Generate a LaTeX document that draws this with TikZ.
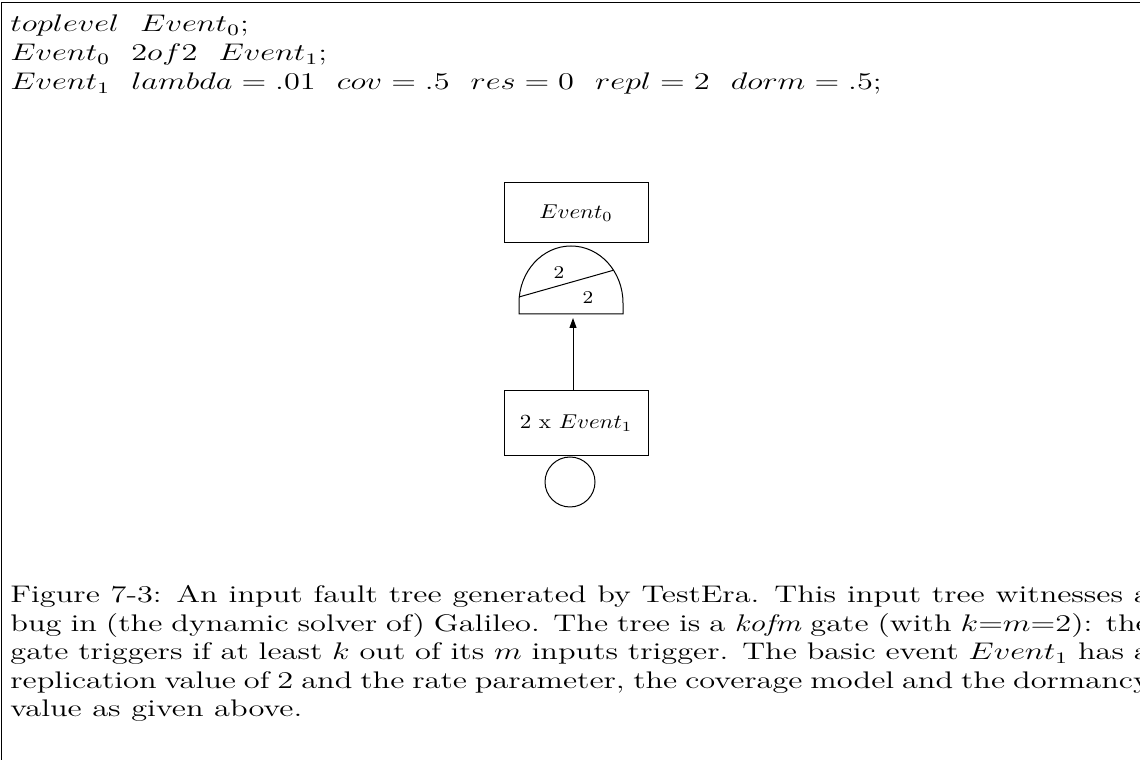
\documentclass[tikz,border=0pt]{standalone}
\usepackage{amsmath}
\usepackage{graphicx}
\usetikzlibrary{arrows.meta,positioning}
\newcommand{\wide}[2][1.35]{\scalebox{#1}[1]{#2}}

\begin{document}
\begin{tikzpicture}[
  box/.style={draw,line width=.5pt,minimum width=72pt,minimum height=30pt,inner sep=0pt,font=\fontsize{10}{12}\selectfont},
  basic/.style={draw,line width=.5pt,circle,minimum size=25pt,inner sep=0pt},
  arr/.style={-{Triangle[length=5pt,width=3.5pt]},line width=.5pt},
  codeline/.style={anchor=base west,inner sep=0pt},
  digit/.style={inner sep=0pt,font=\fontsize{9}{11}\selectfont},
  x=1pt,y=1pt,font=\fontsize{12}{14.5}\selectfont]
\useasboundingbox (0,0) rectangle (570,380);
\draw[line width=.6pt] (0.75,0)--(0.75,378.75)--(570,378.75);
% input description
\node[codeline] (top) at (5,364) {\wide{$toplevel\ \ Event_0;$}};
\node[codeline] (gate) at (5,349.5) {\wide{$Event_0\ \ 2of2\ \ Event_1;$}};
\node[codeline] (basic) at (5,335) {\wide{$Event_1\ \ lambda = .01\ \ cov = .5\ \ res = 0\ \ repl = 2\ \ dorm = .5;$}};
% fault tree
\node[box] (ev0) at (288,273.5) {\wide[1.15]{$Event_0$}};
\draw[line width=.5pt] (259.5,223)--(259.5,228.5) arc[start angle=180,end angle=0,x radius=26,y radius=28.5]--(311.5,223)--cycle;
\coordinate (gbot) at (286.5,223);
\draw[line width=.5pt] (259.5,231.5)--(306.8,244.9);
\node[digit] (k) at (279.5,243.5) {\wide[1.15]{2}};
\node[digit] (m) at (294,231) {\wide[1.15]{2}};
\node[box,minimum height=32.5pt] (ev1) at (288,168.25) {\wide[1.15]{2 x $Event_1$}};
\node[basic,below=0pt of ev1,xshift=-3pt] (be) {};
\draw[arr,shorten >=2pt] (ev1.north-|gbot)--(gbot);
% caption
\node[codeline] (cap) at (5,78.5) {\wide{\parbox[t]{422pt}{\fontsize{12}{14.25}\selectfont
Figure 7-3: An input fault tree generated by TestEra. This input tree witnesses a\linebreak
bug in (the dynamic solver of) Galileo. The tree is a \emph{kofm} gate (with $k$=$m$=2): the\linebreak
gate triggers if at least $k$ out of its $m$ inputs trigger. The basic event $Event_1$ has a\linebreak
replication value of 2 and the rate parameter, the coverage model and the dormancy\linebreak
value as given above.}}};
\end{tikzpicture}
\end{document}
